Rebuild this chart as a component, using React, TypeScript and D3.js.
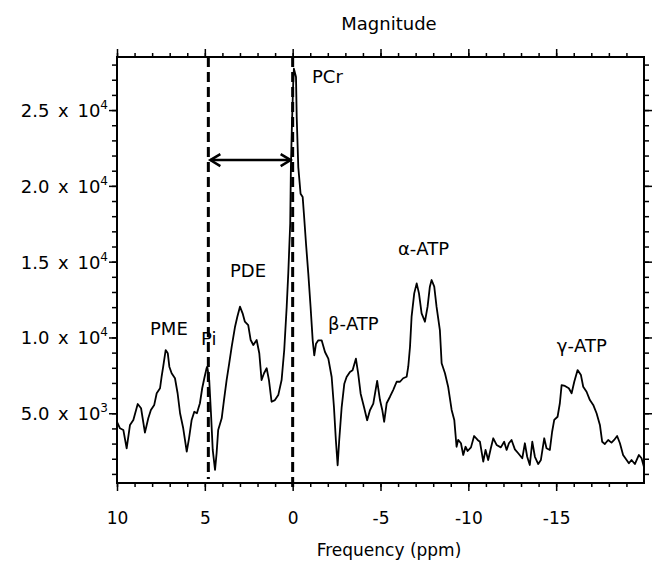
import React, { useEffect, useRef } from 'react';
import * as d3 from 'd3';

// 31P spectrum: chemical shift (ppm) and magnitude
const ppm = [
  10.0, 9.83, 9.64, 9.45, 9.26, 9.07, 8.82, 8.63, 8.41, 8.22, 8.07, 7.88, 7.74, 7.55, 7.46, 7.37,
  7.23, 7.11, 7.02, 6.89, 6.70, 6.55, 6.41, 6.23, 6.03, 5.90, 5.75, 5.60, 5.45, 5.28, 5.15, 5.03,
  4.90, 4.86, 4.75, 4.65, 4.55, 4.42, 4.33, 4.24, 4.04, 3.91, 3.76, 3.61, 3.47, 3.28, 3.15, 3.00,
  2.85, 2.72, 2.53, 2.39, 2.24, 2.05, 1.90, 1.77, 1.63, 1.48, 1.35, 1.20, 1.01, 0.82, 0.63, 0.48,
  0.34, 0.25, 0.14, 0.10, 0.04, -0.03, -0.07, -0.19, -0.23, -0.32, -0.45, -0.57, -0.64, -0.76, -0.89, -1.02,
  -1.14, -1.23, -1.33, -1.46, -1.65, -1.84, -2.03, -2.22, -2.35, -2.46, -2.56, -2.65, -2.79, -2.94, -3.07, -3.26,
  -3.41, -3.60, -3.73, -3.87, -4.06, -4.24, -4.40, -4.59, -4.81, -4.97, -5.10, -5.21, -5.35, -5.54, -5.72, -5.92,
  -6.11, -6.29, -6.49, -6.58, -6.68, -6.77, -6.92, -7.06, -7.19, -7.34, -7.53, -7.68, -7.81, -7.91, -8.06, -8.19,
  -8.38, -8.48, -8.67, -8.85, -9.05, -9.20, -9.33, -9.42, -9.58, -9.71, -9.84, -9.96, -10.15, -10.33, -10.53, -10.66,
  -10.85, -10.98, -11.13, -11.28, -11.42, -11.61, -11.85, -12.04, -12.18, -12.31, -12.46, -12.65, -12.84, -13.07, -13.22, -13.35,
  -13.50, -13.64, -13.79, -13.98, -14.13, -14.32, -14.45, -14.64, -14.77, -14.89, -15.08, -15.21, -15.31, -15.50, -15.72, -15.88,
  -16.03, -16.22, -16.41, -16.54, -16.73, -16.92, -17.11, -17.30, -17.49, -17.62, -17.77, -17.96, -18.15, -18.30, -18.47, -18.63,
  -18.81, -19.01, -19.14, -19.29, -19.48, -19.71, -19.86, -19.99
];

const magnitude = [
  4440, 4010, 3900, 2690, 4230, 4560, 5610, 5330, 3720, 4670, 5220, 5550, 6320, 6650, 7410, 8070,
  9170, 8960, 8070, 7640, 7310, 6320, 5000, 4010, 2470, 3350, 4560, 5100, 5000, 5660, 6650, 7310,
  7970, 8070, 7190, 5000, 2580, 1260, 2360, 3900, 4670, 5870, 7190, 8300, 9390, 10710, 11370, 12030,
  11590, 11040, 10820, 9830, 9500, 9830, 8960, 7190, 7640, 7970, 7190, 5760, 5870, 6200, 7190, 9170,
  12030, 14230, 17500, 21240, 24100, 26740, 27730, 27180, 24540, 21240, 19480, 19260, 18160, 16180, 14210, 12010,
  9810, 8820, 9590, 9810, 9810, 9040, 8600, 7390, 5410, 3220, 1570, 3220, 5410, 6950, 7390, 7720,
  7830, 8600, 7610, 6290, 5410, 4540, 5200, 5630, 7130, 5870, 5220, 4440, 5660, 6090, 6530, 7080,
  7080, 7310, 7410, 8070, 9390, 11370, 12910, 13570, 12910, 11590, 11040, 12030, 13350, 13790, 13350, 12030,
  10490, 8300, 7640, 6750, 5220, 4560, 2790, 3240, 3020, 2250, 2790, 2510, 2750, 3500, 3240, 3120,
  1810, 2580, 1920, 2690, 3350, 2910, 2750, 3120, 2580, 3020, 3240, 2620, 2360, 2030, 3020, 2130,
  1590, 3120, 2130, 1650, 1920, 3350, 2690, 2580, 3780, 4560, 4770, 5660, 6860, 6800, 6650, 6320,
  7080, 7850, 7520, 6750, 6420, 5870, 5550, 5000, 4230, 3120, 2970, 3240, 3060, 3240, 3500, 3020,
  2250, 1920, 1700, 1920, 1650, 2250, 2030, 1480
];

const xMajorTicks = [10, 5, 0, -5, -10, -15];
const yMajorTicks = [5000, 10000, 15000, 20000, 25000];
const yTickMantissa = ['5.0', '1.0', '1.5', '2.0', '2.5'];
const yTickExponent = ['3', '4', '4', '4', '4'];

// peak names, anchored at (ppm, magnitude) of the label's lower-left corner
const peakNames = ['PME', 'Pi', 'PDE', 'PCr', 'β-ATP', 'α-ATP', 'γ-ATP'];
const peakLabelPpm = [8.12, 5.22, 3.57, -1.1, -2.01, -5.99, -15.04];
const peakLabelMag = [10160, 9500, 13990, 26780, 10490, 15440, 9040];

// Pi and PCr reference shifts, and the height of the shift arrow
const markerPpm = [4.8, 0];
const arrowMag = 21700;

export default function App() {
  const ref = useRef<SVGSVGElement>(null);

  useEffect(() => {
    if (!ref.current) return;
    document.body.style.margin = '0';

    const svg = d3.select(ref.current);
    svg.selectAll('*').remove();

    const W = 670, H = 572;
    const left = 117, right = 644, top = 57, bottom = 483;
    const font = '"DejaVu Sans", Verdana, sans-serif';
    const ink = '#000';

    svg.attr('width', W).attr('height', H).style('font-family', font);
    svg.append('rect').attr('width', W).attr('height', H).attr('fill', '#fff');

    const x = d3.scaleLinear().domain([10, -20]).range([left, right]);
    const y = d3.scaleLinear().domain([400, 28500]).range([bottom, top]);

    const minorX = d3.range(10, -20, -1);
    const minorY = d3.range(1000, 29000, 1000);

    const tidy = (g: any) => {
      g.select('.domain').remove();
      g.selectAll('line').attr('stroke', ink).attr('stroke-width', 1.5);
    };
    const blank = () => '';

    // bottom / top axes
    svg.append('g').attr('transform', `translate(0,${bottom})`)
      .call(d3.axisBottom(x).tickValues(minorX).tickSize(4).tickFormat(blank)).call(tidy);
    const xb = svg.append('g').attr('transform', `translate(0,${bottom})`)
      .call(d3.axisBottom(x).tickValues(xMajorTicks).tickSize(8).tickPadding(21).tickFormat((d: any) => String(d)))
      .call(tidy);
    xb.attr('font-family', font).attr('font-size', 17);
    xb.selectAll('text').attr('fill', ink);

    svg.append('g').attr('transform', `translate(0,${top})`)
      .call(d3.axisTop(x).tickValues(minorX).tickSize(4).tickFormat(blank)).call(tidy);
    svg.append('g').attr('transform', `translate(0,${top})`)
      .call(d3.axisTop(x).tickValues(xMajorTicks).tickSize(8).tickFormat(blank)).call(tidy);

    // left / right axes
    svg.append('g').attr('transform', `translate(${left},0)`)
      .call(d3.axisLeft(y).tickValues(minorY).tickSize(5).tickFormat(blank)).call(tidy);
    svg.append('g').attr('transform', `translate(${left},0)`)
      .call(d3.axisLeft(y).tickValues(yMajorTicks).tickSize(8).tickFormat(blank)).call(tidy);
    svg.append('g').attr('transform', `translate(${right},0)`)
      .call(d3.axisRight(y).tickValues(minorY).tickSize(5).tickFormat(blank)).call(tidy);
    svg.append('g').attr('transform', `translate(${right},0)`)
      .call(d3.axisRight(y).tickValues(yMajorTicks).tickSize(8).tickFormat(blank)).call(tidy);

    // y tick labels with powers of ten
    yMajorTicks.forEach((v, i) => {
      const t = svg.append('text')
        .attr('x', left - 9)
        .attr('y', y(v) + 7)
        .attr('text-anchor', 'end')
        .attr('fill', ink)
        .style('font-size', '18px')
        .style('word-spacing', '3px');
      t.append('tspan').text(`${yTickMantissa[i]} x 10`);
      t.append('tspan').attr('dy', -8).style('font-size', '12px').text(yTickExponent[i]);
    });

    // frame
    svg.append('rect')
      .attr('x', left).attr('y', top)
      .attr('width', right - left).attr('height', bottom - top)
      .attr('fill', 'none').attr('stroke', ink).attr('stroke-width', 2);

    // dashed reference lines
    svg.selectAll('.marker')
      .data(markerPpm)
      .enter()
      .append('line')
      .attr('class', 'marker')
      .attr('x1', d => x(d)).attr('x2', d => x(d))
      .attr('y1', top).attr('y2', (d, i) => (i === 0 ? bottom - 4 : bottom + 4))
      .attr('stroke', ink).attr('stroke-width', 3).attr('stroke-dasharray', '10,5');

    // spectrum
    const pts = ppm.map((p, i) => [p, magnitude[i]] as [number, number]);
    const line = d3.line<[number, number]>().x(d => x(d[0])).y(d => y(d[1]));
    svg.append('path')
      .datum(pts)
      .attr('d', line)
      .attr('fill', 'none')
      .attr('stroke', ink)
      .attr('stroke-width', 1.8)
      .attr('stroke-linejoin', 'round');

    // double-headed arrow between Pi and PCr
    const ax1 = x(markerPpm[0]) + 2, ax2 = x(markerPpm[1]) - 2, ay = y(arrowMag);
    svg.append('line')
      .attr('x1', ax1).attr('x2', ax2).attr('y1', ay).attr('y2', ay)
      .attr('stroke', ink).attr('stroke-width', 2.5);
    svg.append('path')
      .attr('d', `M${ax1 + 10},${ay - 6}L${ax1},${ay}L${ax1 + 10},${ay + 6}M${ax2 - 10},${ay - 6}L${ax2},${ay}L${ax2 - 10},${ay + 6}`)
      .attr('fill', 'none').attr('stroke', ink).attr('stroke-width', 2.5);

    // peak labels
    svg.selectAll('.peak')
      .data(peakNames)
      .enter()
      .append('text')
      .attr('class', 'peak')
      .attr('x', (d, i) => x(peakLabelPpm[i]))
      .attr('y', (d, i) => y(peakLabelMag[i]))
      .attr('fill', ink)
      .style('font-size', '18px')
      .text(d => d);

    // titles
    svg.append('text')
      .attr('x', 389).attr('y', 30)
      .attr('text-anchor', 'middle')
      .attr('fill', ink)
      .style('font-size', '18px')
      .text('Magnitude');

    svg.append('text')
      .attr('x', 389).attr('y', 556)
      .attr('text-anchor', 'middle')
      .attr('fill', ink)
      .style('font-size', '17px')
      .text('Frequency (ppm)');
  }, []);

  return <svg ref={ref} style={{ display: 'block' }}></svg>;
}
